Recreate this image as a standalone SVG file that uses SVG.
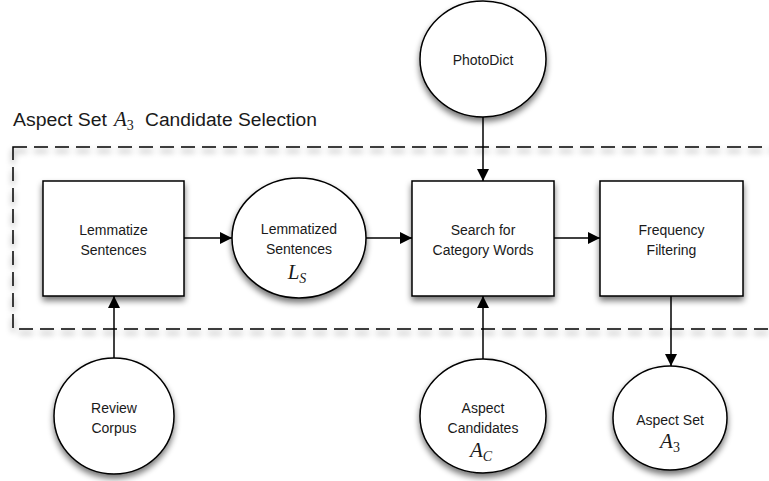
<svg xmlns="http://www.w3.org/2000/svg" width="769" height="481" viewBox="0 0 769 481">
<defs>
<filter id="sh" x="-30%" y="-30%" width="160%" height="170%">
<feGaussianBlur in="SourceAlpha" stdDeviation="3"/>
<feOffset dx="0" dy="4" result="b"/>
<feComponentTransfer><feFuncA type="linear" slope="0.55"/></feComponentTransfer>
<feMerge><feMergeNode/><feMergeNode in="SourceGraphic"/></feMerge>
</filter>
<marker id="ah" markerWidth="12" markerHeight="12" viewBox="0 0 12 12" refX="12" refY="6" orient="auto" markerUnits="userSpaceOnUse">
<path d="M0,0 L12,6 L0,12 z" fill="#000"/>
</marker>
</defs>
<style>
.n{fill:#fff;stroke:#000;stroke-width:1.5}
.t{font-family:"Liberation Sans",Arial,sans-serif;font-size:14px;fill:#1a1a1a;text-anchor:middle}
.m{font-family:"Liberation Serif","Times New Roman",serif;font-style:italic;font-size:21px;fill:#1a1a1a;text-anchor:middle}
.c{stroke:#000;stroke-width:1.5;fill:none;marker-end:url(#ah)}
.d{fill:none;stroke:#000;stroke-width:1.5;stroke-dasharray:14 7}
.h{font-family:"Liberation Sans",Arial,sans-serif;font-size:18px;fill:#1a1a1a}
</style>
<rect id="selection" class="d" x="13" y="147" width="780" height="182" filter="url(#sh)"/>
<g id="title">
<text class="h" x="13" y="126" textLength="94" lengthAdjust="spacingAndGlyphs">Aspect Set</text>
<text x="114" y="126" font-family="Liberation Serif,serif" font-style="italic" font-size="21" fill="#1a1a1a">A<tspan font-style="normal" font-size="14" dy="4">3</tspan></text>
<text class="h" x="145" y="126" textLength="172" lengthAdjust="spacingAndGlyphs">Candidate Selection</text>
</g>
<g id="lemmatize">
<rect class="n" x="43" y="181" width="141" height="115" filter="url(#sh)"/>
<text class="t" x="113.5" y="235">Lemmatize</text>
<text class="t" x="113.5" y="255">Sentences</text>
</g>
<g id="lemmatized">
<ellipse class="n" cx="299" cy="238" rx="67" ry="60" filter="url(#sh)"/>
<text class="t" x="299" y="234">Lemmatized</text>
<text class="t" x="299" y="254">Sentences</text>
<text class="m" x="297" y="279">L<tspan font-size="14" dy="4">S</tspan></text>
</g>
<g id="search">
<rect class="n" x="412" y="181" width="142" height="115" filter="url(#sh)"/>
<text class="t" x="483" y="235">Search for</text>
<text class="t" x="483" y="255">Category Words</text>
</g>
<g id="frequency">
<rect class="n" x="600" y="181" width="143" height="115" filter="url(#sh)"/>
<text class="t" x="671.5" y="235">Frequency</text>
<text class="t" x="671.5" y="255">Filtering</text>
</g>
<g id="photodict">
<ellipse class="n" cx="483" cy="59" rx="63" ry="58" filter="url(#sh)"/>
<text class="t" x="483" y="65">PhotoDict</text>
</g>
<g id="review">
<ellipse class="n" cx="114" cy="416" rx="60" ry="58" filter="url(#sh)"/>
<text class="t" x="114" y="413">Review</text>
<text class="t" x="114" y="433">Corpus</text>
</g>
<g id="candidates">
<ellipse class="n" cx="483" cy="416" rx="63" ry="57" filter="url(#sh)"/>
<text class="t" x="483" y="413">Aspect</text>
<text class="t" x="483" y="433">Candidates</text>
<text class="m" x="481" y="457">A<tspan font-size="14" dy="4">C</tspan></text>
</g>
<g id="aspectset">
<ellipse class="n" cx="670" cy="418" rx="57" ry="52" filter="url(#sh)"/>
<text class="t" x="670" y="425">Aspect Set</text>
<text class="m" x="670" y="448">A<tspan font-style="normal" font-size="14" dy="4">3</tspan></text>
</g>
<g id="connectors">
<line class="c" x1="184" y1="238" x2="232" y2="238"/>
<line class="c" x1="366" y1="238" x2="412" y2="238"/>
<line class="c" x1="554" y1="238" x2="600" y2="238"/>
<line class="c" x1="483" y1="117" x2="483" y2="181"/>
<line class="c" x1="114" y1="358" x2="114" y2="296"/>
<line class="c" x1="483" y1="359" x2="483" y2="296"/>
<line class="c" x1="671" y1="296" x2="671" y2="366"/>
</g>
</svg>
